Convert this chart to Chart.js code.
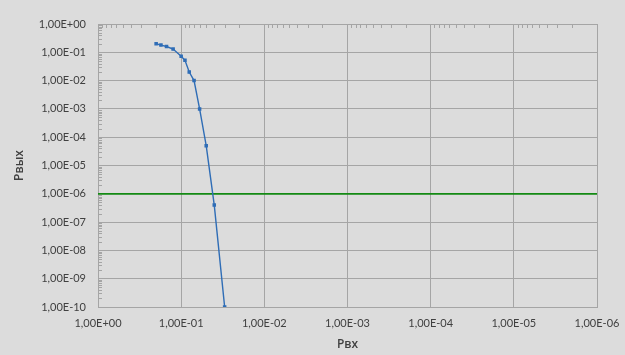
<!DOCTYPE html>
<html>
<head>
<meta charset="utf-8">
<script src="https://cdn.jsdelivr.net/npm/chart.js@4/dist/chart.umd.min.js"></script>
<style>
  html, body { margin: 0; padding: 0; background: #dcdcdc; }
  #wrap { width: 625px; height: 355px; }
</style>
</head>
<body>
<div id="wrap"><canvas id="c" width="625" height="355"></canvas></div>
<script>
// Input power (Рвх) and output power (Рвых)
const pIn  = [0.2, 0.175, 0.15, 0.125, 0.1, 0.09, 0.08, 0.07, 0.06, 0.05, 0.04, 0.03];
const pOut = [0.2, 0.18, 0.16, 0.13, 0.072, 0.052, 0.02, 0.01, 1e-3, 5e-5, 4e-7, 1e-10];
// Horizontal reference level
const threshold = 1e-6;
// Decade tick values
const xTicks = [1, 1e-1, 1e-2, 1e-3, 1e-4, 1e-5, 1e-6];
const yTicks = [1, 1e-1, 1e-2, 1e-3, 1e-4, 1e-5, 1e-6, 1e-7, 1e-8, 1e-9, 1e-10];

function sci(v) {
  const e = Math.round(Math.log10(v));
  const s = e < 0 ? '-' : '+';
  const a = Math.abs(e);
  return '1,00E' + s + (a < 10 ? '0' + a : a);
}

const gridColor = '#a5a5a5';
const textColor = '#404040';
const tickFont = { family: 'Lato, "Open Sans", sans-serif', size: 11 };
const titleFont = { family: '"Open Sans", "Noto Sans", sans-serif', size: 12, weight: '600' };

const background = {
  id: 'background',
  beforeDraw(chart) {
    const ctx = chart.ctx;
    ctx.save();
    ctx.fillStyle = '#dcdcdc';
    ctx.fillRect(0, 0, chart.width, chart.height);
    ctx.restore();
  }
};

// Short minor tick marks along the top and left edges of the plot
const minorTicks = {
  id: 'minorTicks',
  afterDatasetsDraw(chart) {
    const { ctx, chartArea } = chart;
    const xs = chart.scales.x, ys = chart.scales.y;
    ctx.save();
    ctx.strokeStyle = gridColor;
    ctx.lineWidth = 1;
    ctx.beginPath();
    for (let n = 0; n < xTicks.length - 1; n++) {
      const base = xTicks[n + 1];
      for (let k = 2; k <= 9; k++) {
        const px = Math.round(xs.getPixelForValue(k * base)) + 0.5;
        ctx.moveTo(px, chartArea.top);
        ctx.lineTo(px, chartArea.top + 4);
      }
    }
    for (let n = 0; n < yTicks.length - 1; n++) {
      const base = yTicks[n + 1];
      for (let k = 2; k <= 9; k++) {
        const py = Math.round(ys.getPixelForValue(k * base)) + 0.5;
        ctx.moveTo(chartArea.left, py);
        ctx.lineTo(chartArea.left + 4, py);
      }
    }
    ctx.stroke();
    ctx.restore();
  }
};

const curve = pIn.map((x, i) => ({ x: x, y: pOut[i] }));
const level = [{ x: xTicks[0], y: threshold }, { x: xTicks[xTicks.length - 1], y: threshold }];

new Chart(document.getElementById('c'), {
  type: 'scatter',
  data: {
    datasets: [
      {
        data: curve,
        showLine: true,
        borderColor: '#2f6db6',
        backgroundColor: '#2f6db6',
        borderWidth: 1.4,
        pointStyle: 'rect',
        pointRadius: 1.5,
        pointHoverRadius: 1.5,
        tension: 0,
        order: 0
      },
      {
        data: level,
        showLine: true,
        borderColor: '#138a13',
        borderWidth: 1.75,
        pointRadius: 0,
        order: 1
      }
    ]
  },
  options: {
    responsive: false,
    animation: false,
    events: [],
    layout: { padding: { top: 24, right: 28, left: 0, bottom: 0 } },
    plugins: { legend: { display: false }, tooltip: { enabled: false } },
    scales: {
      x: {
        type: 'logarithmic',
        reverse: true,
        min: xTicks[xTicks.length - 1],
        max: xTicks[0],
        afterBuildTicks(s) { s.ticks = xTicks.map(v => ({ value: v })); },
        afterFit(s) { s.height = 48; s.paddingLeft = 0; s.paddingRight = 0; },
        grid: { color: gridColor, lineWidth: 1, drawTicks: false },
        border: { display: true, color: gridColor },
        ticks: {
          autoSkip: false, maxRotation: 0, padding: 10,
          color: textColor, font: tickFont,
          callback: v => sci(v)
        },
        title: {
          display: true, text: 'Рвх', color: textColor, font: titleFont,
          padding: { top: 0, bottom: 3 }
        }
      },
      y: {
        type: 'logarithmic',
        min: yTicks[yTicks.length - 1],
        max: yTicks[0],
        afterBuildTicks(s) { s.ticks = yTicks.map(v => ({ value: v })); },
        afterFit(s) { s.width = 98; s.paddingTop = 0; s.paddingBottom = 0; },
        grid: { color: gridColor, lineWidth: 1, drawTicks: false },
        border: { display: true, color: gridColor },
        ticks: {
          autoSkip: false, padding: 12,
          color: textColor, font: tickFont,
          callback: v => sci(v)
        },
        title: {
          display: true, text: 'Рвых', color: textColor, font: titleFont,
          padding: { top: 12, bottom: 0 }
        }
      }
    }
  },
  plugins: [background, minorTicks]
});
</script>
</body>
</html>
